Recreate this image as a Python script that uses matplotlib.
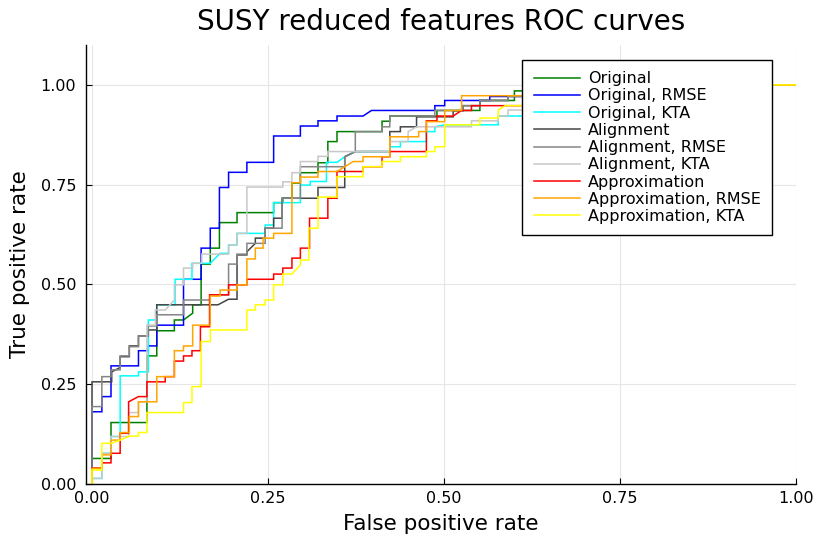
import matplotlib
matplotlib.use("Agg")
import matplotlib.pyplot as plt

# ROC curve vertices (false positive rate, true positive rate) for each model
roc_original = [(0, 0), (0, 0.064), (0.027, 0.064), (0.027, 0.154), (0.078, 0.154), (0.078, 0.321),
                (0.092, 0.321), (0.092, 0.384), (0.117, 0.384), (0.117, 0.411), (0.130, 0.411),
                (0.143, 0.428), (0.143, 0.449), (0.155, 0.449), (0.155, 0.551), (0.168, 0.551),
                (0.168, 0.591), (0.181, 0.591), (0.181, 0.655), (0.206, 0.655), (0.206, 0.680),
                (0.258, 0.680), (0.258, 0.705), (0.271, 0.705), (0.271, 0.716), (0.284, 0.716),
                (0.284, 0.754), (0.296, 0.754), (0.296, 0.780), (0.321, 0.780), (0.321, 0.805),
                (0.335, 0.805), (0.335, 0.858), (0.348, 0.858), (0.348, 0.883), (0.412, 0.883),
                (0.412, 0.909), (0.423, 0.909), (0.423, 0.922), (0.490, 0.922), (0.490, 0.936),
                (0.551, 0.936), (0.551, 0.961), (0.600, 0.961), (0.600, 0.985), (0.680, 0.985),
                (0.680, 1.0), (1.0, 1.0)]

roc_original_rmse = [(0, 0), (0, 0.181), (0.014, 0.181), (0.014, 0.219), (0.027, 0.219), (0.027, 0.296),
                     (0.066, 0.296), (0.066, 0.334), (0.080, 0.334), (0.080, 0.346), (0.092, 0.346),
                     (0.092, 0.398), (0.130, 0.398), (0.130, 0.513), (0.155, 0.513), (0.155, 0.591),
                     (0.168, 0.591), (0.168, 0.641), (0.181, 0.641), (0.181, 0.743), (0.194, 0.743),
                     (0.194, 0.781), (0.220, 0.781), (0.220, 0.806), (0.258, 0.806), (0.258, 0.872),
                     (0.296, 0.872), (0.296, 0.897), (0.321, 0.897), (0.321, 0.910), (0.348, 0.910),
                     (0.348, 0.922), (0.385, 0.922), (0.397, 0.936), (0.487, 0.936), (0.487, 0.948),
                     (0.501, 0.948), (0.501, 0.961), (0.565, 0.961), (0.565, 0.971), (0.620, 0.971),
                     (0.620, 0.985), (0.700, 0.985), (0.700, 1.0), (1.0, 1.0)]

roc_original_kta = [(0, 0), (0, 0.014), (0.014, 0.014), (0.014, 0.077), (0.027, 0.077), (0.027, 0.119),
                    (0.040, 0.119), (0.040, 0.271), (0.066, 0.271), (0.066, 0.281), (0.080, 0.281),
                    (0.080, 0.411), (0.092, 0.411), (0.092, 0.449), (0.118, 0.449), (0.118, 0.513),
                    (0.142, 0.513), (0.142, 0.553), (0.168, 0.553), (0.182, 0.578), (0.194, 0.578),
                    (0.194, 0.599), (0.206, 0.599), (0.206, 0.628), (0.246, 0.628), (0.246, 0.649),
                    (0.258, 0.649), (0.258, 0.705), (0.296, 0.705), (0.296, 0.749), (0.310, 0.749),
                    (0.310, 0.758), (0.333, 0.758), (0.333, 0.806), (0.348, 0.806), (0.359, 0.820),
                    (0.374, 0.833), (0.423, 0.833), (0.423, 0.845), (0.438, 0.845), (0.438, 0.858),
                    (0.475, 0.858), (0.475, 0.883), (0.487, 0.883), (0.487, 0.895), (0.501, 0.900),
                    (0.577, 0.900), (0.577, 0.922), (0.650, 0.922), (0.650, 0.960), (0.750, 0.960),
                    (0.750, 0.985), (0.820, 0.985), (0.820, 1.0), (1.0, 1.0)]

roc_alignment = [(0, 0), (0, 0.256), (0.028, 0.256), (0.028, 0.281), (0.040, 0.292), (0.040, 0.319),
                 (0.053, 0.319), (0.053, 0.346), (0.066, 0.346), (0.066, 0.371), (0.080, 0.371),
                 (0.080, 0.386), (0.092, 0.386), (0.092, 0.449), (0.179, 0.449), (0.194, 0.463),
                 (0.206, 0.463), (0.206, 0.574), (0.220, 0.574), (0.220, 0.582), (0.232, 0.603),
                 (0.232, 0.616), (0.246, 0.616), (0.246, 0.641), (0.258, 0.641), (0.258, 0.666),
                 (0.270, 0.666), (0.270, 0.716), (0.321, 0.716), (0.321, 0.743), (0.359, 0.743),
                 (0.359, 0.820), (0.374, 0.833), (0.423, 0.833), (0.423, 0.883), (0.438, 0.883),
                 (0.438, 0.895), (0.461, 0.895), (0.461, 0.920), (0.513, 0.920), (0.513, 0.935),
                 (0.527, 0.935), (0.527, 0.948), (0.551, 0.948), (0.551, 0.961), (0.591, 0.961),
                 (0.591, 0.972), (0.650, 0.972), (0.650, 0.990), (0.720, 0.990), (0.720, 1.0),
                 (1.0, 1.0)]

roc_alignment_rmse = [(0, 0), (0, 0.194), (0.014, 0.194), (0.014, 0.269), (0.027, 0.269), (0.027, 0.286),
                      (0.040, 0.286), (0.040, 0.321), (0.053, 0.321), (0.053, 0.344), (0.066, 0.344),
                      (0.066, 0.371), (0.080, 0.371), (0.080, 0.396), (0.092, 0.396), (0.092, 0.424),
                      (0.130, 0.424), (0.130, 0.461), (0.168, 0.461), (0.168, 0.474), (0.194, 0.474),
                      (0.194, 0.551), (0.206, 0.551), (0.206, 0.576), (0.220, 0.576), (0.220, 0.603),
                      (0.246, 0.603), (0.246, 0.641), (0.270, 0.641), (0.270, 0.716), (0.296, 0.716),
                      (0.296, 0.795), (0.359, 0.795), (0.359, 0.820), (0.374, 0.833), (0.374, 0.883),
                      (0.412, 0.883), (0.412, 0.895), (0.423, 0.895), (0.423, 0.922), (0.487, 0.922),
                      (0.487, 0.936), (0.527, 0.936), (0.527, 0.948), (0.551, 0.948), (0.551, 0.961),
                      (0.591, 0.961), (0.591, 0.971), (0.630, 0.971), (0.630, 0.985), (0.700, 0.985),
                      (0.700, 1.0), (1.0, 1.0)]

roc_alignment_kta = [(0, 0), (0, 0.014), (0.014, 0.014), (0.014, 0.077), (0.027, 0.077), (0.027, 0.119),
                     (0.052, 0.119), (0.052, 0.179), (0.066, 0.179), (0.066, 0.206), (0.078, 0.206),
                     (0.078, 0.398), (0.090, 0.398), (0.090, 0.436), (0.104, 0.436), (0.117, 0.461),
                     (0.117, 0.499), (0.130, 0.499), (0.130, 0.541), (0.143, 0.541), (0.143, 0.553),
                     (0.156, 0.553), (0.156, 0.576), (0.194, 0.576), (0.194, 0.599), (0.206, 0.599),
                     (0.206, 0.628), (0.220, 0.628), (0.220, 0.744), (0.271, 0.744), (0.271, 0.757),
                     (0.284, 0.757), (0.284, 0.780), (0.296, 0.780), (0.296, 0.808), (0.321, 0.808),
                     (0.321, 0.821), (0.335, 0.821), (0.335, 0.833), (0.423, 0.833), (0.423, 0.858),
                     (0.449, 0.858), (0.449, 0.883), (0.461, 0.895), (0.539, 0.895), (0.539, 0.910),
                     (0.577, 0.910), (0.577, 0.922), (0.591, 0.922), (0.591, 0.937), (0.660, 0.937),
                     (0.660, 0.970), (0.740, 0.970), (0.740, 1.0), (1.0, 1.0)]

roc_approximation = [(0, 0), (0, 0.040), (0.014, 0.040), (0.014, 0.053), (0.027, 0.053), (0.027, 0.077),
                     (0.040, 0.077), (0.040, 0.127), (0.052, 0.127), (0.052, 0.206), (0.066, 0.219),
                     (0.078, 0.219), (0.078, 0.256), (0.104, 0.256), (0.104, 0.269), (0.117, 0.269),
                     (0.117, 0.308), (0.130, 0.308), (0.130, 0.321), (0.142, 0.321), (0.142, 0.334),
                     (0.154, 0.334), (0.154, 0.394), (0.167, 0.394), (0.167, 0.474), (0.194, 0.474),
                     (0.194, 0.499), (0.220, 0.499), (0.220, 0.513), (0.258, 0.513), (0.258, 0.526),
                     (0.271, 0.526), (0.271, 0.541), (0.284, 0.541), (0.284, 0.566), (0.296, 0.566),
                     (0.296, 0.591), (0.309, 0.591), (0.309, 0.666), (0.335, 0.666), (0.335, 0.716),
                     (0.348, 0.716), (0.348, 0.783), (0.385, 0.783), (0.385, 0.795), (0.412, 0.795),
                     (0.412, 0.820), (0.423, 0.820), (0.423, 0.833), (0.475, 0.833), (0.475, 0.910),
                     (0.490, 0.910), (0.490, 0.922), (0.513, 0.922), (0.525, 0.936), (0.539, 0.936),
                     (0.539, 0.948), (0.660, 0.948), (0.660, 0.975), (0.740, 0.975), (0.740, 1.0),
                     (1.0, 1.0)]

roc_approximation_rmse = [(0, 0), (0, 0.039), (0.014, 0.039), (0.014, 0.073), (0.027, 0.073),
                          (0.027, 0.110), (0.040, 0.110), (0.040, 0.129), (0.053, 0.129), (0.053, 0.169),
                          (0.066, 0.169), (0.066, 0.206), (0.092, 0.206), (0.092, 0.269), (0.117, 0.269),
                          (0.117, 0.334), (0.130, 0.334), (0.130, 0.346), (0.143, 0.346), (0.143, 0.398),
                          (0.168, 0.398), (0.168, 0.471), (0.182, 0.471), (0.182, 0.486), (0.206, 0.486),
                          (0.206, 0.499), (0.220, 0.499), (0.220, 0.564), (0.232, 0.564), (0.232, 0.591),
                          (0.243, 0.591), (0.243, 0.616), (0.258, 0.616), (0.258, 0.628), (0.284, 0.628),
                          (0.284, 0.755), (0.296, 0.755), (0.296, 0.769), (0.321, 0.769), (0.321, 0.783),
                          (0.348, 0.783), (0.359, 0.795), (0.371, 0.808), (0.385, 0.808), (0.385, 0.820),
                          (0.423, 0.820), (0.423, 0.870), (0.464, 0.870), (0.464, 0.883), (0.475, 0.883),
                          (0.475, 0.908), (0.501, 0.908), (0.501, 0.936), (0.525, 0.936), (0.525, 0.973),
                          (0.640, 0.973), (0.640, 0.987), (0.700, 0.987), (0.700, 1.0), (1.0, 1.0)]

roc_approximation_kta = [(0, 0), (0, 0.035), (0.014, 0.035), (0.014, 0.102), (0.028, 0.102),
                         (0.040, 0.110), (0.053, 0.120), (0.066, 0.120), (0.066, 0.129), (0.078, 0.129),
                         (0.078, 0.179), (0.130, 0.179), (0.130, 0.204), (0.142, 0.204), (0.142, 0.244),
                         (0.155, 0.244), (0.155, 0.357), (0.168, 0.357), (0.168, 0.386), (0.220, 0.386),
                         (0.220, 0.436), (0.232, 0.436), (0.232, 0.449), (0.246, 0.449), (0.246, 0.461),
                         (0.258, 0.461), (0.258, 0.499), (0.271, 0.499), (0.271, 0.526), (0.284, 0.526),
                         (0.296, 0.549), (0.296, 0.561), (0.308, 0.561), (0.308, 0.641), (0.321, 0.641),
                         (0.321, 0.719), (0.348, 0.719), (0.348, 0.770), (0.385, 0.770), (0.385, 0.795),
                         (0.412, 0.795), (0.412, 0.808), (0.438, 0.808), (0.438, 0.820), (0.475, 0.820),
                         (0.475, 0.833), (0.487, 0.833), (0.487, 0.845), (0.501, 0.845), (0.501, 0.900),
                         (0.551, 0.900), (0.551, 0.917), (0.577, 0.917), (0.577, 0.937), (0.587, 0.948),
                         (0.660, 0.948), (0.660, 0.975), (0.760, 0.975), (0.760, 1.0), (1.0, 1.0)]

series_labels = ["Original", "Original, RMSE", "Original, KTA",
                 "Alignment", "Alignment, RMSE", "Alignment, KTA",
                 "Approximation", "Approximation, RMSE", "Approximation, KTA"]
series_curves = [roc_original, roc_original_rmse, roc_original_kta,
                 roc_alignment, roc_alignment_rmse, roc_alignment_kta,
                 roc_approximation, roc_approximation_rmse, roc_approximation_kta]
series_colors = ["#008000", "#0000ff", "#00ffff",
                 "#454545", "#858585", "#c8c8c8",
                 "#ff0000", "#ffa500", "#ffff00"]

tick_values = [0.0, 0.25, 0.5, 0.75, 1.0]
tick_labels = ["0.00", "0.25", "0.50", "0.75", "1.00"]

W, H = 816, 542
fig = plt.figure(figsize=(W / 100, H / 100), dpi=100)
ax = fig.add_axes([86 / W, 1 - 484 / H, 710 / W, 439 / H])

for curve, label, color in zip(series_curves, series_labels, series_colors):
    fpr = [p[0] for p in curve]
    tpr = [p[1] for p in curve]
    ax.plot(fpr, tpr, color=color, lw=1.1, label=label, solid_joinstyle="miter")

ax.set_xlim(-6 / 704, 1.0)
ax.set_ylim(0.0, 1.1)
ax.set_xticks(tick_values)
ax.set_xticklabels(tick_labels)
ax.set_yticks(tick_values)
ax.set_yticklabels(tick_labels)

ax.grid(True, color="#e6e6e6", lw=0.8)
ax.set_axisbelow(True)
for side in ("top", "right"):
    ax.spines[side].set_visible(False)
for side in ("left", "bottom"):
    ax.spines[side].set_linewidth(1.0)
    ax.spines[side].set_color("black")

ax.tick_params(axis="both", direction="in", length=4, width=0.8, labelsize=11.5, colors="black")
ax.tick_params(axis="y", pad=7)
ax.tick_params(axis="x", pad=5)

ax.set_title("SUSY reduced features ROC curves", fontsize=20, pad=11)
ax.set_xlabel("False positive rate", fontsize=15.5, labelpad=6)
ax.set_ylabel("True positive rate", fontsize=15.5, labelpad=8)

leg = ax.legend(loc="upper right", bbox_to_anchor=((772 - 86) / 710, (484 - 60) / 439),
                borderaxespad=0, fontsize=11.5, frameon=True, fancybox=False, framealpha=1,
                edgecolor="black", handlelength=2.9, handletextpad=0.5, labelspacing=0.14,
                borderpad=0.7)
leg.get_frame().set_linewidth(1.0)

fig.savefig("out.png", dpi=100)
